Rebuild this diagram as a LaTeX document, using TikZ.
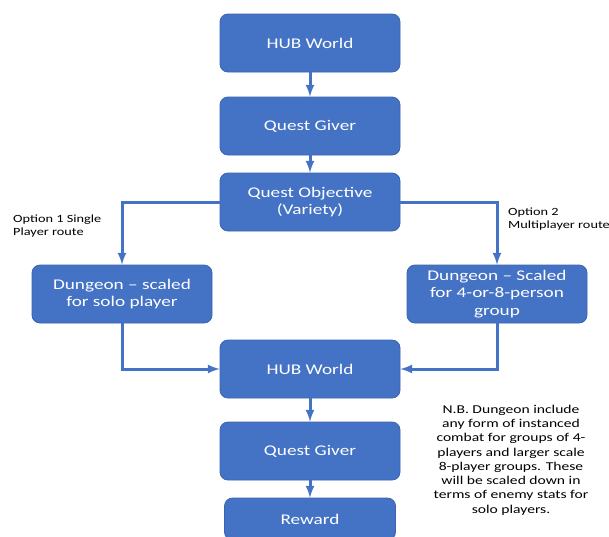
\documentclass[tikz,border=0pt]{standalone}
\usepackage{fontspec}
\setmainfont{Carlito}[FakeStretch=1.3]
\definecolor{boxblue}{HTML}{4472C4}
\definecolor{boxline}{HTML}{3A64B0}
\tikzset{
	box/.style={draw=boxline, line width=0.8pt, fill=boxblue, rounded corners=8pt, minimum width=180pt, minimum height=58pt, text=white, align=center, inner sep=2pt, font=\fontsize{14.8}{17.3}\selectfont},
	link/.style={draw=boxblue, line width=3pt, -latex},
	remark/.style={align=left, font=\fontsize{11}{13}\selectfont, inner sep=0pt}
}
\begin{document}
\begin{tikzpicture}[x=1pt, y=-1pt]
		\useasboundingbox (0,0) rectangle (609,536);
		\node [box](HubA)at (310,43) {HUB World};
		\node [box](GiverA)at (310,126) {Quest Giver};
		\node [box](Objective)at (310,202) {Quest Objective\\(Variety)};
		\node [box](Solo)at (122,294) {Dungeon -- scaled\\for solo player};
		\node [box](Group)at (497,294) {Dungeon -- Scaled\\for 4-or-8-person\\group};
		\node [box](HubB)at (310,369) {HUB World};
		\node [box](GiverB)at (310,451) {Quest Giver};
		\node [box, minimum width=171pt, minimum height=42pt](Reward)at (310,519) {Reward};
		\node [remark, anchor=north west](OptOne)at (13,215) {Option 1 Single\\Player route};
		\node [remark, anchor=north west](OptTwo)at (508,208) {Option 2\\Multiplayer route};
		\node [remark, align=center, font=\fontsize{12}{14.3}\selectfont](Note)at (511,460) {N.B. Dungeon include\\any form of instanced\\combat for groups of 4-\\players and larger scale\\8-player groups. These\\will be scaled down in\\terms of enemy stats for\\solo players.};
		\draw [link](HubA)--(GiverA);
		\draw [link](GiverA)--(Objective);
		\draw [link](Objective.west) -| (Solo.north);
		\draw [link](Objective.east) -| (Group.north);
		\draw [link](Solo.south) |- (HubB.west);
		\draw [link](Group.south) |- (HubB.east);
		\draw [link](HubB)--(GiverB);
		\draw [link](GiverB)--(Reward);
	\end{tikzpicture}
\end{document}
